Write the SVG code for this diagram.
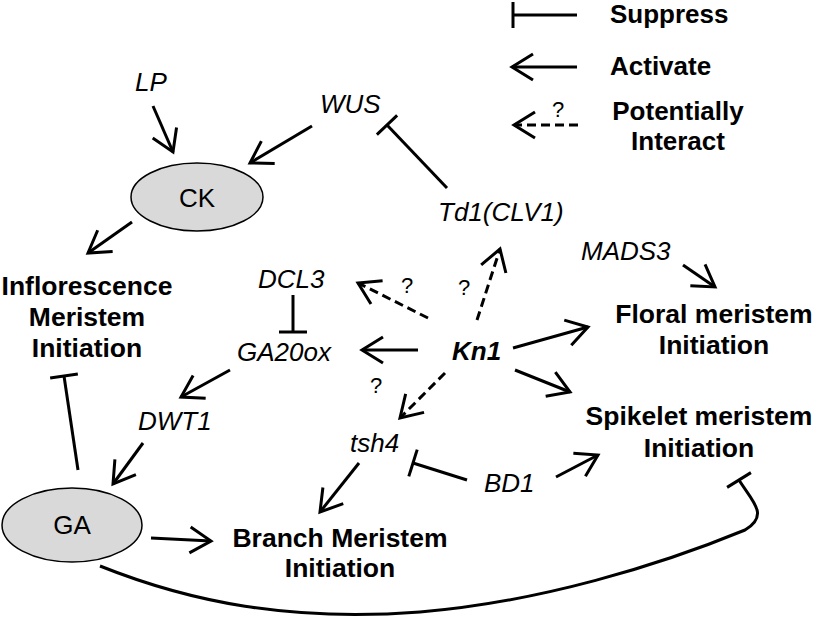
<svg xmlns="http://www.w3.org/2000/svg" width="816" height="625" viewBox="0 0 816 625">
<style>
text{font-family:"Liberation Sans",Arial,sans-serif;fill:#000}
.lab{font-size:26px;font-style:italic}
.proc{font-size:26.5px;font-weight:bold;text-anchor:middle}
.leg{font-size:26px;font-weight:bold}
.q{font-size:22px;text-anchor:middle}
.ln{fill:none;stroke:#000;stroke-width:3}
.act{marker-end:url(#arr)}
.sup{marker-end:url(#bar)}
.pot{stroke-dasharray:9 5;marker-end:url(#arr)}
.hormone{fill:#d9d9d9;stroke:#000;stroke-width:1.5}
</style>
<defs>
<marker id="arr" markerUnits="userSpaceOnUse" orient="auto" refX="0" refY="0" markerWidth="30" markerHeight="30" viewBox="-25 -15 30 30" overflow="visible">
<path d="M -21 -13 L 0 0 L -21 13" fill="none" stroke="#000" stroke-width="3" stroke-dasharray="none"/>
</marker>
<marker id="bar" markerUnits="userSpaceOnUse" orient="auto" refX="0" refY="0" markerWidth="10" markerHeight="32" viewBox="-5 -16 10 32" overflow="visible">
<path d="M 0 -14 L 0 14" fill="none" stroke="#000" stroke-width="3" stroke-dasharray="none"/>
</marker>
</defs>

<g id="legend">
<line class="ln" x1="577" y1="15" x2="513" y2="15"/>
<line class="ln" x1="513" y1="2" x2="513" y2="28"/>
<text class="leg" x="610" y="23">Suppress</text>
<line class="ln act" x1="577" y1="67" x2="512" y2="67"/>
<text class="leg" x="610" y="75">Activate</text>
<line class="ln pot" x1="578" y1="125" x2="514" y2="125"/>
<text class="q" x="558" y="117">?</text>
<text class="leg" x="678" y="120" text-anchor="middle">Potentially</text>
<text class="leg" x="678" y="150" text-anchor="middle">Interact</text>
</g>

<g id="connectors">
<line class="ln act" x1="153" y1="106" x2="173" y2="152"/>
<line class="ln act" x1="312" y1="126" x2="250" y2="163"/>
<line class="ln sup" x1="447" y1="188" x2="387" y2="125"/>
<line class="ln act" x1="132" y1="222" x2="88" y2="253"/>
<line class="ln pot" x1="477" y1="320" x2="500" y2="249"/>
<line class="ln pot" x1="428" y1="318" x2="358" y2="283"/>
<line class="ln act" x1="418" y1="350" x2="362" y2="350"/>
<line class="ln pot" x1="445" y1="373" x2="400" y2="418"/>
<line class="ln act" x1="513" y1="348" x2="588" y2="327"/>
<line class="ln act" x1="515" y1="370" x2="570" y2="392"/>
<line class="ln act" x1="683" y1="265" x2="715" y2="287"/>
<line class="ln sup" x1="293" y1="295" x2="293" y2="332"/>
<line class="ln act" x1="230" y1="370" x2="181" y2="397"/>
<line class="ln act" x1="143" y1="443" x2="113" y2="484"/>
<line class="ln sup" x1="78" y1="470" x2="64" y2="376"/>
<line class="ln act" x1="151" y1="538" x2="211" y2="541"/>
<line class="ln act" x1="359" y1="463" x2="320" y2="512"/>
<line class="ln sup" x1="467" y1="480" x2="413" y2="463"/>
<line class="ln act" x1="556" y1="477" x2="598" y2="455"/>
<path class="ln sup" d="M 100 566 C 190 602, 290 622, 420 612 C 540 602, 660 565, 745 530 C 770 515, 752 501, 739 480"/>
<text class="q" x="407" y="293">?</text>
<text class="q" x="464" y="295">?</text>
<text class="q" x="376" y="393">?</text>
</g>

<g id="LP"><text class="lab" x="135" y="91">LP</text></g>
<g id="WUS"><text class="lab" x="320" y="113">WUS</text></g>
<g id="CK"><ellipse class="hormone" cx="197" cy="197" rx="66" ry="34"/><text x="197" y="207" font-size="26" text-anchor="middle">CK</text></g>
<g id="Td1"><text class="lab" x="438" y="221">Td1(CLV1)</text></g>
<g id="MADS3"><text class="lab" x="581" y="260">MADS3</text></g>
<g id="DCL3"><text class="lab" x="258" y="288">DCL3</text></g>
<g id="GA20ox"><text class="lab" x="237" y="361">GA20ox</text></g>
<g id="Kn1"><text x="452" y="360" font-size="26" font-weight="bold" font-style="italic">Kn1</text></g>
<g id="DWT1"><text class="lab" x="138" y="430">DWT1</text></g>
<g id="tsh4"><text class="lab" x="350" y="452">tsh4</text></g>
<g id="BD1"><text class="lab" x="484" y="492">BD1</text></g>
<g id="GA"><ellipse class="hormone" cx="72" cy="525" rx="70" ry="37"/><text x="72" y="534" font-size="26" text-anchor="middle">GA</text></g>
<g id="inflorescence"><text class="proc" x="87" y="295">Inflorescence</text><text class="proc" x="87" y="326">Meristem</text><text class="proc" x="87" y="357">Initiation</text></g>
<g id="floral"><text class="proc" x="714" y="323">Floral meristem</text><text class="proc" x="714" y="354">Initiation</text></g>
<g id="spikelet"><text class="proc" x="699" y="425">Spikelet meristem</text><text class="proc" x="699" y="457">Initiation</text></g>
<g id="branch"><text class="proc" x="340" y="547">Branch Meristem</text><text class="proc" x="340" y="577">Initiation</text></g>
</svg>
